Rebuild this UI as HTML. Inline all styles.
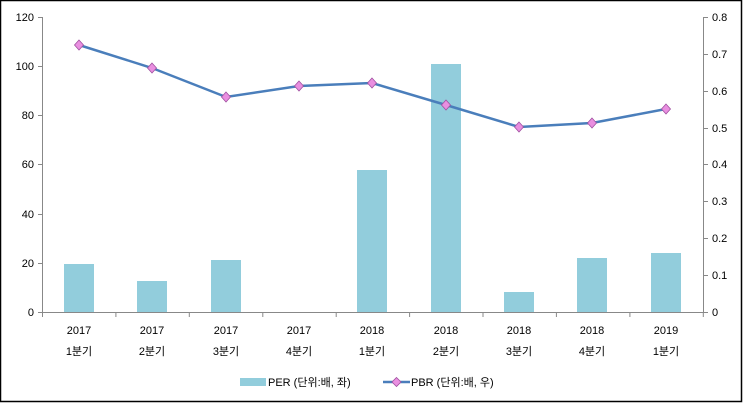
<!DOCTYPE html>
<html><head><meta charset="utf-8"><style>body{margin:0}svg{display:block}</style></head><body>
<svg width="743" height="403" xmlns="http://www.w3.org/2000/svg" font-family="Liberation Sans, 'Noto Sans CJK KR', sans-serif" font-size="11" fill="#000">
<rect x="0.5" y="0.5" width="741" height="401" fill="#fff" stroke="#000" stroke-width="1.5"/>
<g stroke="#888" stroke-width="1">
<line x1="42.5" y1="17" x2="42.5" y2="312"/>
<line x1="703.5" y1="17" x2="703.5" y2="312"/>
<line x1="42" y1="312.5" x2="704" y2="312.5"/>
<line x1="38" y1="17.5" x2="42" y2="17.5"/><line x1="38" y1="66.5" x2="42" y2="66.5"/><line x1="38" y1="115.5" x2="42" y2="115.5"/><line x1="38" y1="164.5" x2="42" y2="164.5"/><line x1="38" y1="214.5" x2="42" y2="214.5"/><line x1="38" y1="263.5" x2="42" y2="263.5"/><line x1="38" y1="312.5" x2="42" y2="312.5"/>
<line x1="704" y1="17.5" x2="708" y2="17.5"/><line x1="704" y1="54.5" x2="708" y2="54.5"/><line x1="704" y1="91.5" x2="708" y2="91.5"/><line x1="704" y1="128.5" x2="708" y2="128.5"/><line x1="704" y1="164.5" x2="708" y2="164.5"/><line x1="704" y1="201.5" x2="708" y2="201.5"/><line x1="704" y1="238.5" x2="708" y2="238.5"/><line x1="704" y1="275.5" x2="708" y2="275.5"/><line x1="704" y1="312.5" x2="708" y2="312.5"/>
<line x1="42.5" y1="312" x2="42.5" y2="317"/><line x1="115.9" y1="312" x2="115.9" y2="317"/><line x1="189.3" y1="312" x2="189.3" y2="317"/><line x1="262.8" y1="312" x2="262.8" y2="317"/><line x1="336.2" y1="312" x2="336.2" y2="317"/><line x1="409.6" y1="312" x2="409.6" y2="317"/><line x1="483" y1="312" x2="483" y2="317"/><line x1="556.4" y1="312" x2="556.4" y2="317"/><line x1="629.9" y1="312" x2="629.9" y2="317"/><line x1="703.3" y1="312" x2="703.3" y2="317"/>
</g>
<g text-anchor="end">
<text x="34" y="21">120</text><text x="34" y="70">100</text><text x="34" y="119">80</text><text x="34" y="168">60</text><text x="34" y="218">40</text><text x="34" y="267">20</text><text x="34" y="316">0</text>
</g>
<g>
<text x="712" y="21">0.8</text><text x="712" y="58">0.7</text><text x="712" y="95">0.6</text><text x="712" y="132">0.5</text><text x="712" y="168">0.4</text><text x="712" y="205">0.3</text><text x="712" y="242">0.2</text><text x="712" y="279">0.1</text><text x="712" y="316">0</text>
</g>
<g fill="#92CDDC">
<rect x="64" y="264" width="30" height="48"/>
<rect x="137" y="281" width="30" height="31"/>
<rect x="211" y="260" width="30" height="52"/>
<rect x="357" y="170" width="30" height="142"/>
<rect x="431" y="64" width="30" height="248"/>
<rect x="504" y="292" width="30" height="20"/>
<rect x="577" y="258" width="30" height="54"/>
<rect x="651" y="253" width="30" height="59"/>
</g>
<polyline fill="none" stroke="#4A7EBB" stroke-width="2.5" points="79,45 152,68 226,97 299,86 372,83 446,105 519,127 592,123 666,109"/>
<g fill="#E98FE0" stroke="#A050A0" stroke-width="0.8">
<path d="M79,40 l4.5,5 l-4.5,5 l-4.5,-5z"/><path d="M152,63 l4.5,5 l-4.5,5 l-4.5,-5z"/><path d="M226,92 l4.5,5 l-4.5,5 l-4.5,-5z"/><path d="M299,81 l4.5,5 l-4.5,5 l-4.5,-5z"/><path d="M372,78 l4.5,5 l-4.5,5 l-4.5,-5z"/><path d="M446,100 l4.5,5 l-4.5,5 l-4.5,-5z"/><path d="M519,122 l4.5,5 l-4.5,5 l-4.5,-5z"/><path d="M592,118 l4.5,5 l-4.5,5 l-4.5,-5z"/><path d="M666,104 l4.5,5 l-4.5,5 l-4.5,-5z"/>
</g>
<g text-anchor="middle">
<text x="79" y="334">2017</text><text x="79" y="355">1분기</text>
<text x="152" y="334">2017</text><text x="152" y="355">2분기</text>
<text x="226" y="334">2017</text><text x="226" y="355">3분기</text>
<text x="299" y="334">2017</text><text x="299" y="355">4분기</text>
<text x="372" y="334">2018</text><text x="372" y="355">1분기</text>
<text x="446" y="334">2018</text><text x="446" y="355">2분기</text>
<text x="519" y="334">2018</text><text x="519" y="355">3분기</text>
<text x="592" y="334">2018</text><text x="592" y="355">4분기</text>
<text x="666" y="334">2019</text><text x="666" y="355">1분기</text>
</g>
<rect x="240" y="378" width="26" height="8" fill="#92CDDC"/>
<text x="268" y="386">PER (단위:배, 좌)</text>
<line x1="383" y1="382" x2="410" y2="382" stroke="#4A7EBB" stroke-width="2.5"/>
<path d="M396.5,377.5 l4.5,4.5 l-4.5,4.5 l-4.5,-4.5z" fill="#E98FE0" stroke="#A050A0" stroke-width="0.8"/>
<text x="411" y="386">PBR (단위:배, 우)</text>
</svg>
</body></html>
